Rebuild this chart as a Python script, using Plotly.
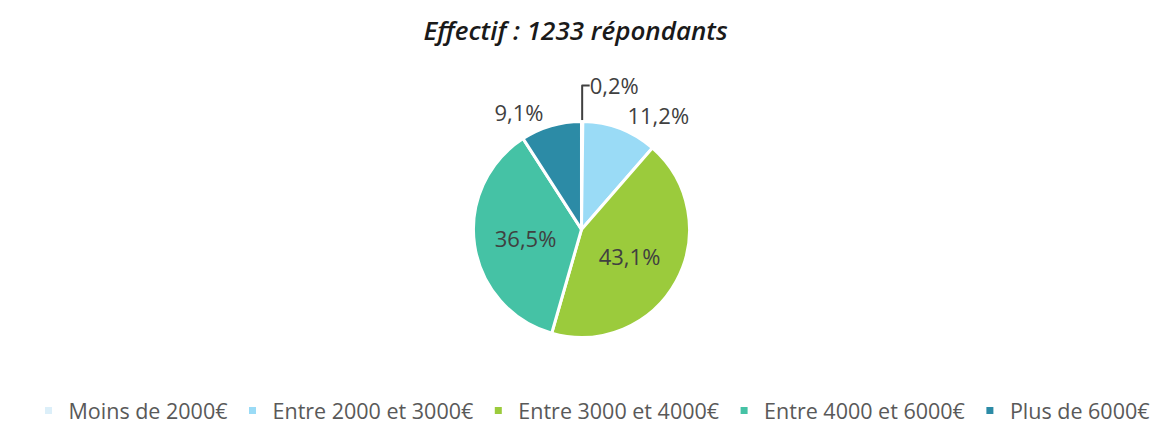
import plotly.graph_objects as go

categories = ["Moins de 2000€", "Entre 2000 et 3000€", "Entre 3000 et 4000€",
              "Entre 4000 et 6000€", "Plus de 6000€"]
values = [0.2, 11.2, 43.1, 36.5, 9.1]
colors = ["#DCEFF9", "#9ADBF6", "#9BCB3C", "#45C2A5", "#2C8BA6"]
positions = ["outside", "outside", "inside", "inside", "outside"]
title_text = "Effectif : 1233 répondants"

FONT = "Open Sans, Lato, sans-serif"
labels_text = [f"{v:.1f}%".replace(".", ",") for v in values]

fig = go.Figure()
fig.add_trace(go.Pie(
    labels=categories,
    values=values,
    text=labels_text,
    texttemplate="%{text}",
    textposition=positions,
    sort=False,
    direction="clockwise",
    rotation=0,
    showlegend=False,
    marker=dict(colors=colors, line=dict(color="white", width=3)),
    textfont=dict(family=FONT, size=22, color="#404040"),
    insidetextorientation="horizontal",
    hoverinfo="label+percent",
    domain=dict(x=[0.397, 0.585], y=[0.21, 0.728]),
))

# legend entries (small square markers)
for cat, col in zip(categories, colors):
    fig.add_trace(go.Scatter(
        x=[None], y=[None], mode="markers", name=cat,
        marker=dict(symbol="square", size=7, color=col),
        showlegend=True, hoverinfo="skip",
    ))

fig.update_layout(
    width=1168, height=423,
    margin=dict(l=0, r=0, t=0, b=0),
    paper_bgcolor="white",
    plot_bgcolor="white",
    xaxis=dict(visible=False),
    yaxis=dict(visible=False),
    title=dict(text=f"<i>{title_text}</i>", x=0.486, xanchor="center",
               y=0.945, yanchor="middle",
               font=dict(family=FONT, size=26, color="#1a1a1a", weight=600)),
    legend=dict(orientation="h", x=0.5, xanchor="center", y=0.035, yanchor="middle",
                font=dict(family=FONT, size=21.5, color="#595959"),
                itemsizing="trace", traceorder="normal"),
)

fig.write_html("out.html")
